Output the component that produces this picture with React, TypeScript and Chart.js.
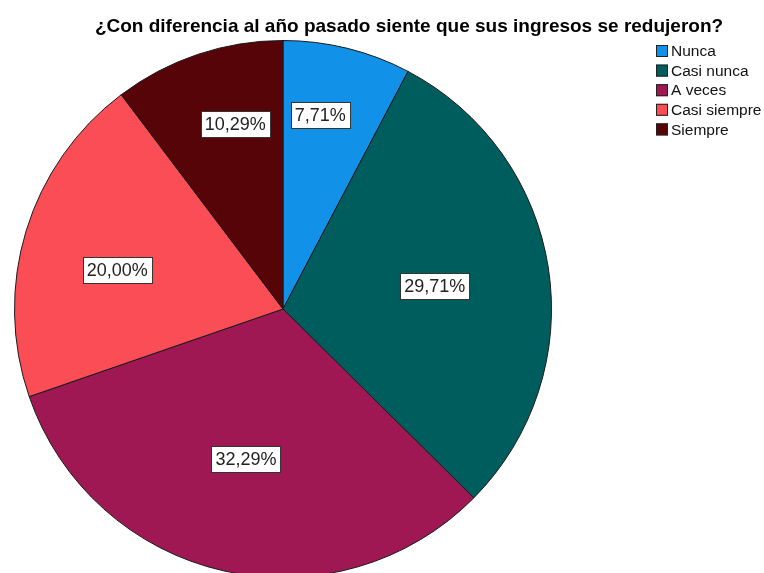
import React, { useEffect, useRef } from "react";
import { Chart, registerables } from "chart.js";

Chart.register(...registerables);

const titleText = "¿Con diferencia al año pasado siente que sus ingresos se redujeron?";
const categories = ["Nunca", "Casi nunca", "A veces", "Casi siempre", "Siempre"];
const percentages = [7.71, 29.71, 32.29, 20.0, 10.29];
const sliceColors = ["#1192E8", "#005D5D", "#9F1853", "#FA4D56", "#570408"];
const labelRadiusFraction = [0.735, 0.572, 0.576, 0.634, 0.71];
const labelAngleShiftDeg = [-3, 0, 1, -3.8, 4];

const fmt = (v: number) => v.toFixed(2).replace(".", ",") + "%";

const overlayPlugin = {
  id: "overlay",
  afterDraw(chart: any) {
    const ctx = chart.ctx as CanvasRenderingContext2D;
    ctx.save();
    // title
    ctx.fillStyle = "#000";
    ctx.font = "bold 19px 'Liberation Sans', Arial, sans-serif";
    ctx.textAlign = "center";
    ctx.textBaseline = "alphabetic";
    ctx.fillText(titleText, 409, 32);

    // legend
    ctx.font = "15.5px 'Liberation Sans', Arial, sans-serif";
    ctx.textAlign = "left";
    ctx.textBaseline = "middle";
    categories.forEach((c, i) => {
      const y = 51 + i * 19.6;
      ctx.fillStyle = sliceColors[i];
      ctx.fillRect(656, y - 6, 12, 12);
      ctx.strokeStyle = "#222";
      ctx.lineWidth = 1;
      ctx.strokeRect(656.5, y - 5.5, 11, 11);
      ctx.fillStyle = "#111";
      ctx.fillText(c, 671, y + 1);
    });

    // data labels
    const meta = chart.getDatasetMeta(0);
    ctx.font = "18px 'Liberation Sans', Arial, sans-serif";
    ctx.textAlign = "center";
    ctx.textBaseline = "middle";
    meta.data.forEach((arc: any, i: number) => {
      const mid = (arc.startAngle + arc.endAngle) / 2 + (labelAngleShiftDeg[i] * Math.PI) / 180;
      const r = arc.outerRadius * labelRadiusFraction[i];
      const x = arc.x + Math.cos(mid) * r;
      const y = arc.y + Math.sin(mid) * r;
      const text = fmt(percentages[i]);
      const w = ctx.measureText(text).width + 8;
      const h = 26;
      const bx = Math.round(x - w / 2) + 0.5;
      const by = Math.round(y - h / 2) + 0.5;
      ctx.fillStyle = "#fff";
      ctx.fillRect(bx, by, w, h);
      ctx.strokeStyle = "#333";
      ctx.lineWidth = 1;
      ctx.strokeRect(bx, by, w, h);
      ctx.fillStyle = "#222";
      ctx.fillText(text, x, y + 1);
    });
    ctx.restore();
  },
};

export default function App() {
  const ref = useRef<HTMLCanvasElement | null>(null);
  useEffect(() => {
    if (!ref.current) return;
    const chart = new Chart(ref.current, {
      type: "pie",
      data: {
        labels: categories,
        datasets: [
          {
            data: percentages,
            backgroundColor: sliceColors,
            borderColor: "#1a1a1a",
            borderWidth: 1,
          },
        ],
      },
      options: {
        animation: false,
        responsive: false,
        devicePixelRatio: 1,
        layout: { padding: { left: 14, right: 212, top: 40, bottom: 22 } },
        plugins: {
          legend: { display: false },
          title: { display: false },
          tooltip: { enabled: false },
        },
      },
      plugins: [overlayPlugin],
    });
    return () => chart.destroy();
  }, []);
  return (
    <div style={{ position: "fixed", left: 0, top: 0, width: 764, height: 573, overflow: "hidden", background: "#fff" }}>
      <canvas ref={ref} width={764} height={600} style={{ display: "block" }} />
    </div>
  );
}
